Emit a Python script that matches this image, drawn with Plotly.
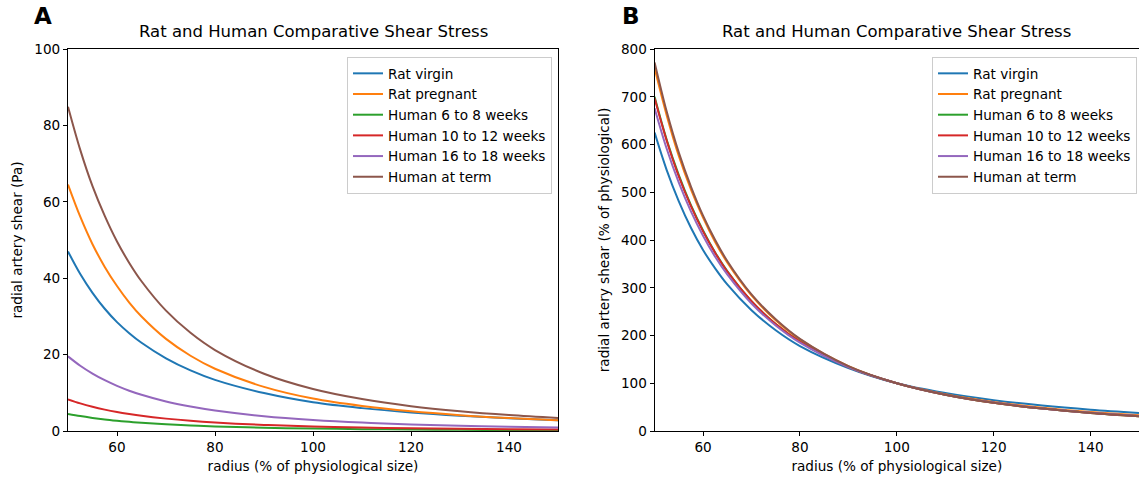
import plotly.graph_objects as go

# ---- data ----
radius = [50, 52.5, 55, 57.5, 60, 62.5, 65, 70, 75, 80, 90, 100, 110, 120, 130, 140, 150]
series_names = ["Rat virgin", "Rat pregnant", "Human 6 to 8 weeks",
                "Human 10 to 12 weeks", "Human 16 to 18 weeks", "Human at term"]
colors = ["#1f77b4", "#ff7f0e", "#2ca02c", "#d62728", "#9467bd", "#8c564b"]

# Panel A: radial artery shear (Pa)
shear_rat_virgin = [47.0, 41.10, 36.17, 32.00, 28.50, 25.61, 23.09, 19.03, 15.87, 13.39, 9.93, 7.52, 5.99, 4.86, 4.01, 3.35, 2.84]
shear_rat_pregnant = [64.52, 56.1, 48.90, 42.96, 37.95, 33.62, 29.97, 24.11, 19.70, 16.30, 11.55, 8.49, 6.55, 5.16, 4.15, 3.39, 2.81]
shear_h_6_8 = [4.48, 3.90, 3.43, 3.03, 2.69, 2.39, 2.14, 1.74, 1.43, 1.20, 0.86, 0.64, 0.49, 0.38, 0.30, 0.24, 0.20]
shear_h_10_12 = [8.29, 7.23, 6.34, 5.60, 4.97, 4.44, 3.97, 3.24, 2.67, 2.23, 1.59, 1.19, 0.90, 0.70, 0.56, 0.45, 0.37]
shear_h_16_18 = [19.54, 17.08, 15.03, 13.29, 11.82, 10.55, 9.48, 7.72, 6.39, 5.35, 3.87, 2.89, 2.20, 1.72, 1.37, 1.11, 0.91]
shear_h_term = [84.9, 73.6, 64.1, 56.3, 49.6, 44.0, 39.2, 31.5, 25.7, 21.2, 15.0, 11.0, 8.36, 6.50, 5.17, 4.17, 3.42]

# Panel B: radial artery shear (% of physiological)
pct_rat_virgin = [625, 546.5, 481, 425.5, 379, 340.6, 307, 253, 211, 178, 132, 100, 79.6, 64.6, 53.3, 44.6, 37.8]
pct_rat_pregnant = [760, 661, 576, 506, 447, 396, 353, 284, 232, 192, 136, 100, 77.1, 60.8, 48.9, 39.9, 33.1]
pct_h_6_8 = [700, 610, 536, 473, 420, 374, 335, 272, 224, 187, 134, 100, 76.0, 59.0, 47.0, 37.9, 31.0]
pct_h_10_12 = [697, 608, 533, 471, 418, 373, 334, 272, 224, 187, 134, 100, 76.0, 59.0, 47.0, 37.9, 31.0]
pct_h_16_18 = [676, 591, 520, 460, 409, 365, 328, 267, 221, 185, 134, 100, 76.2, 59.5, 47.3, 38.3, 31.5]
pct_h_term = [772, 669, 583, 512, 451, 400, 356, 286, 234, 193, 136, 100, 76.0, 59.1, 47.0, 37.9, 31.1]

panel_a = [shear_rat_virgin, shear_rat_pregnant, shear_h_6_8, shear_h_10_12, shear_h_16_18, shear_h_term]
panel_b = [pct_rat_virgin, pct_rat_pregnant, pct_h_6_8, pct_h_10_12, pct_h_16_18, pct_h_term]

title_text = "Rat and Human Comparative Shear Stress"
x_label = "radius (% of physiological size)"
y_label_a = "radial artery shear (Pa)"
y_label_b = "radial artery shear (% of physiological)"
ticks_a = [0, 20, 40, 60, 80, 100]
ticks_b = [0, 100, 200, 300, 400, 500, 600, 700, 800]
ticks_x = [60, 80, 100, 120, 140]

W, H = 1139, 477
FONT = "DejaVu Sans"
FS = 13.6

fig = go.Figure()
for name, col, ys in zip(series_names, colors, panel_a):
    fig.add_trace(go.Scatter(x=radius, y=ys, mode="lines", name=name,
                             line=dict(color=col, width=2, shape="spline", smoothing=1.0),
                             xaxis="x", yaxis="y", legend="legend"))
for name, col, ys in zip(series_names, colors, panel_b):
    fig.add_trace(go.Scatter(x=radius, y=ys, mode="lines", name=name,
                             line=dict(color=col, width=2, shape="spline", smoothing=1.0),
                             xaxis="x2", yaxis="y2", legend="legend2"))

def px_x(p):
    return p / W

def px_y(p):
    return (H - p) / H

dom_y = [px_y(431), px_y(49)]
dom_a = [px_x(68), px_x(558)]
dom_b = [px_x(654.6), 1.0]

axis_common = dict(showline=True, linecolor="black", linewidth=1, ticks="outside",
                   ticklen=4, tickcolor="black", showgrid=False, zeroline=False,
                   automargin=False,
                   tickfont=dict(family=FONT, size=FS, color="black"))

legend_common = dict(xanchor="right", yanchor="top",
                     bgcolor="rgba(255,255,255,0.8)", bordercolor="#cccccc", borderwidth=1,
                     font=dict(family=FONT, size=FS, color="black"), itemwidth=30,
                     tracegroupgap=0)

fig.update_layout(
    template="none",
    width=W, height=H,
    margin=dict(l=0, r=0, t=0, b=0, autoexpand=False),
    paper_bgcolor="white", plot_bgcolor="white",
    font=dict(family=FONT, size=FS, color="black"),
    xaxis=dict(domain=dom_a, range=[50, 150], tickvals=ticks_x, anchor="y", mirror=True,
               title=dict(text=x_label, font=dict(family=FONT, size=FS), standoff=7), **axis_common),
    yaxis=dict(domain=dom_y, range=[0, 100], tickvals=ticks_a, anchor="x", mirror=True,
               title=dict(text=y_label_a, font=dict(family=FONT, size=FS), standoff=8), **axis_common),
    xaxis2=dict(domain=dom_b, range=[50, 150], tickvals=ticks_x, anchor="y2", mirror=True,
                title=dict(text=x_label, font=dict(family=FONT, size=FS), standoff=7), **axis_common),
    yaxis2=dict(domain=dom_y, range=[0, 800], tickvals=ticks_b, anchor="x2", mirror=False,
                title=dict(text=y_label_b, font=dict(family=FONT, size=FS), standoff=8), **axis_common),
    legend=dict(x=px_x(552), y=px_y(57), **legend_common),
    legend2=dict(x=px_x(1137), y=px_y(57), **legend_common),
    showlegend=True,
)

annotations = [
    dict(text=title_text, x=(dom_a[0] + dom_a[1]) / 2, y=px_y(43), xref="paper", yref="paper",
         xanchor="center", yanchor="bottom", showarrow=False,
         font=dict(family=FONT, size=16.5, color="black")),
    dict(text=title_text, x=(dom_b[0] + px_x(1138.6)) / 2, y=px_y(43), xref="paper", yref="paper",
         xanchor="center", yanchor="bottom", showarrow=False,
         font=dict(family=FONT, size=16.5, color="black")),
    dict(text="<b>A</b>", x=px_x(32), y=px_y(31), xref="paper", yref="paper",
         xanchor="left", yanchor="bottom", showarrow=False,
         font=dict(family=FONT, size=23, color="black")),
    dict(text="<b>B</b>", x=px_x(620), y=px_y(31), xref="paper", yref="paper",
         xanchor="left", yanchor="bottom", showarrow=False,
         font=dict(family=FONT, size=23, color="black")),
]
fig.update_layout(annotations=annotations)

fig.write_html("out.html", config={"displayModeBar": False},
               post_script="document.body.style.margin='0px';document.body.style.overflow='hidden';")
